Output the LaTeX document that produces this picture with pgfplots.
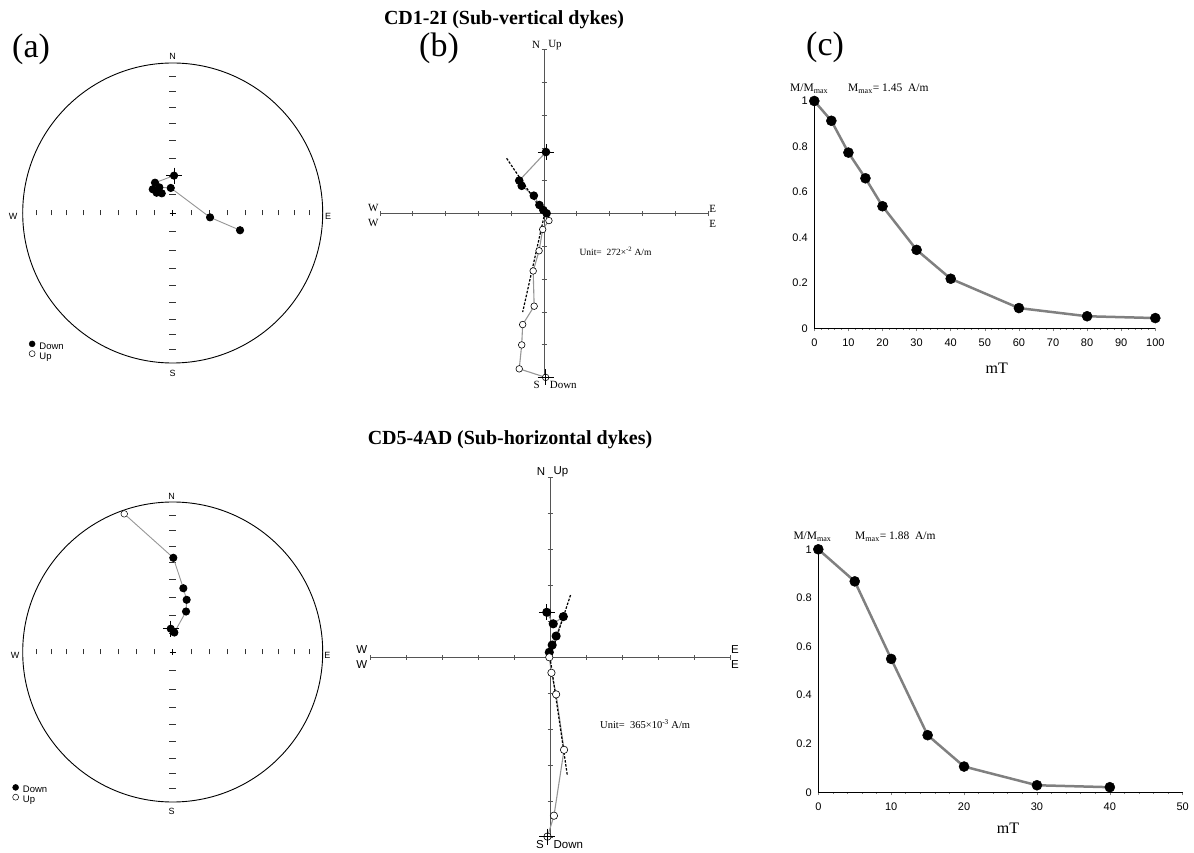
\documentclass[border=0pt]{standalone}
\usepackage{fontspec}
\setmainfont{Liberation Serif}
\setsansfont{Liberation Sans}
\usepackage{pgfplots}
\pgfplotsset{compat=1.18}
\definecolor{linegray}{RGB}{150,150,150}
\definecolor{curvegray}{RGB}{128,128,128}
\definecolor{axgray}{RGB}{85,85,85}
\newcommand{\fs}[1]{\fontsize{#1}{#1}\selectfont}
\pgfplotsset{
  stereo/.style={scale only axis, width=300pt, height=300pt, xmin=-1, xmax=1, ymin=-1, ymax=1,
    hide axis, anchor=center, clip=false,
    legend style={draw=none, fill=none, inner sep=0pt, font=\sffamily\fs{9.5}, row sep=-1.5pt,
      column sep=3pt, nodes={inner sep=1pt}},
    legend cell align=left},
  zijd/.style={scale only axis, xmin=-5, xmax=5, ymin=-5, ymax=5, enlargelimits=false,
    axis lines=center, axis line style={-, draw=axgray, line width=1pt},
    xtick={-5,-4,...,5}, ytick={-5,-4,...,5}, xticklabels={}, yticklabels={},
    tick align=center, major tick length=5pt, tick style={draw=axgray, line width=0.8pt},
    anchor=center, clip=false},
  afd/.style={scale only axis, anchor=south west, ymin=0, ymax=1, xmin=0,
    axis x line=bottom, axis y line=left, axis line style={-, line width=0.9pt},
    ytick={0,0.2,0.4,0.6,0.8,1}, minor x tick num=4,
    tick align=outside, major tick length=3pt, minor tick length=1.5pt,
    ytick style={draw=none}, tick style={line width=0.6pt},
    ticklabel style={font=\sffamily\fs{11}}, xticklabel style={yshift=-4pt},
    /pgf/number format/assume math mode=true, clip=false},
}
\newcommand{\stereoframe}{%
  \draw[line width=0.9pt] (axis cs:0,0) circle[radius=150pt];
  \pgfplotsinvokeforeach{0.1233,0.2456,0.3660,0.4837,0.5977,0.7071,0.8112,0.9096}{%
    \draw[line width=0.6pt,black!80] (axis cs:##1,0) ++(0pt,-2.5pt) -- ++(0pt,5pt);
    \draw[line width=0.6pt,black!80] (axis cs:-##1,0) ++(0pt,-2.5pt) -- ++(0pt,5pt);
    \draw[line width=0.6pt,black!80] (axis cs:0,##1) ++(-3.5pt,0pt) -- ++(7pt,0pt);
    \draw[line width=0.6pt,black!80] (axis cs:0,-##1) ++(-3.5pt,0pt) -- ++(7pt,0pt);
  }
  \draw[line width=0.6pt] (axis cs:0,0) ++(-3pt,0pt) -- ++(6pt,0pt);
  \draw[line width=0.6pt] (axis cs:0,0) ++(0pt,-3pt) -- ++(0pt,6pt);
}
\newcommand{\stereolegend}{%
  \addlegendimage{legend image code/.code={\draw[black,fill=black] (0pt,3pt) circle (3pt);}}
  \addlegendentry{Down}
  \addlegendimage{legend image code/.code={\draw[black,fill=white,line width=0.5pt] (0pt,3pt) circle (3pt);}}
  \addlegendentry{Up}
}
\begin{document}
\begin{tikzpicture}
\path[use as bounding box] (0pt,0pt) rectangle (1194pt,852pt);

% titles and panel letters
\node[anchor=base, font=\bfseries\fs{20}] at (504pt,827pt) {CD1-2I (Sub-vertical dykes)};
\node[anchor=base, font=\bfseries\fs{20}] at (510pt,407pt) {CD5-4AD (Sub-horizontal dykes)};
\node[anchor=base west, font=\fs{34}, inner sep=0pt] at (12pt,794pt) {(a)};
\node[anchor=base west, font=\fs{34}, inner sep=0pt] at (419pt,795pt) {(b)};
\node[anchor=base west, font=\fs{34}, inner sep=0pt] at (806pt,796pt) {(c)};

% ---------- (a) top: stereonet ----------
\begin{axis}[stereo, at={(172.7pt,639pt)}, legend style={at={(0.02,0.075)}, anchor=north west}]
\stereolegend
\stereoframe
\addplot[forget plot, draw=linegray, line width=0.9pt, mark=*, mark size=3.6pt,
  mark options={fill=black,draw=black}] coordinates {
  (0.009,0.249) (-0.118,0.202) (-0.133,0.158) (-0.107,0.135) (-0.073,0.131)
  (-0.089,0.171) (-0.013,0.167) (0.249,-0.029) (0.449,-0.115)};
\addplot[forget plot, only marks, mark=+, mark size=8pt, mark options={line width=0.6pt}]
  coordinates {(0.009,0.249)};
\end{axis}
\begin{scope}[font=\sffamily\fs{9}]
\node at (172.7pt,795.3pt) {N};
\node at (172.7pt,479pt) {S};
\node at (13pt,636pt) {W};
\node at (328pt,636pt) {E};
\end{scope}

% ---------- (a) bottom: stereonet ----------
\begin{axis}[stereo, at={(172.7pt,200pt)}, legend style={at={(-0.035,0.06)}, anchor=north west}]
\stereolegend
\stereoframe
\addplot[forget plot, draw=linegray, line width=0.9pt, mark=*, mark size=3.6pt,
  mark options={fill=black,draw=black}] coordinates {
  (-0.013,0.155) (0.011,0.13) (0.089,0.27) (0.093,0.348) (0.071,0.425) (0.004,0.628)};
\addplot[forget plot, draw=linegray, line width=0.9pt] coordinates {(0.004,0.628) (-0.323,0.921)};
\addplot[forget plot, only marks, mark=*, mark size=3.3pt, mark options={fill=white,draw=black,line width=0.5pt}]
  coordinates {(-0.323,0.921)};
\addplot[forget plot, only marks, mark=+, mark size=8pt, mark options={line width=0.6pt}]
  coordinates {(-0.013,0.155)};
\end{axis}
\begin{scope}[font=\sffamily\fs{9}]
\node at (171.7pt,355.3pt) {N};
\node at (171.7pt,40.3pt) {S};
\node at (15pt,197pt) {W};
\node at (327.3pt,197pt) {E};
\end{scope}

% ---------- (b) top: Zijderveld ----------
\begin{axis}[zijd, width=328pt, height=328pt, at={(544pt,638.3pt)}]
\addplot[draw=linegray, line width=1.1pt, mark=*, mark size=3.7pt,
  mark options={fill=black,draw=black}] coordinates {
  (0.06,1.88) (-0.755,1.01) (-0.68,0.85) (-0.31,0.55) (-0.14,0.265) (-0.02,0.11) (0.08,0.01)};
\addplot[draw=linegray, line width=1.1pt, mark=*, mark size=3.3pt,
  mark options={fill=white,draw=black,line width=0.6pt}] coordinates {
  (0.05,-4.99) (-0.755,-4.73) (-0.68,-4.0) (-0.65,-3.38) (-0.3,-2.82) (-0.33,-1.745)
  (-0.15,-1.13) (-0.04,-0.48) (0.15,-0.21)};
\addplot[only marks, mark=+, mark size=8pt, mark options={line width=0.6pt}]
  coordinates {(0.06,1.88) (0.05,-4.99)};
\addplot[black, line width=1.2pt, dash pattern=on 2.5pt off 1.5pt] coordinates {(-1.14,1.69) (0,0)};
\addplot[black, line width=1.2pt, dash pattern=on 2.5pt off 1.5pt] coordinates {(0,-0.09) (-0.65,-3.0)};
\end{axis}
\begin{scope}[font=\fs{11}]
\node at (536pt,807pt) {N};
\node at (555pt,807pt) {Up};
\node at (373.3pt,643.7pt) {W};
\node at (373.3pt,628.7pt) {W};
\node at (712.7pt,643pt) {E};
\node at (712.7pt,628pt) {E};
\node at (536.7pt,467pt) {S};
\node at (563.3pt,467pt) {Down};
\node[anchor=west, font=\fs{9.5}] at (576pt,600.3pt) {Unit=\ \ 272×\textsuperscript{-2} A/m};
\end{scope}

% ---------- (b) bottom: Zijderveld ----------
\begin{axis}[zijd, width=360pt, height=360pt, at={(550pt,194.7pt)}]
\addplot[draw=linegray, line width=1.1pt, mark=*, mark size=4pt,
  mark options={fill=black,draw=black}] coordinates {
  (-0.09,1.25) (0.09,0.93) (0.37,1.13) (0.17,0.59) (0.06,0.34) (-0.02,0.14)};
\addplot[draw=linegray, line width=1.1pt, mark=*, mark size=3.7pt,
  mark options={fill=white,draw=black,line width=0.6pt}] coordinates {
  (-0.07,-4.98) (0.11,-4.4) (0.39,-2.57) (0.17,-1.03) (0.04,-0.43) (-0.02,0)};
\addplot[only marks, mark=+, mark size=8pt, mark options={line width=0.6pt}]
  coordinates {(-0.09,1.25) (-0.07,-4.98)};
\addplot[black, line width=1.2pt, dash pattern=on 2.5pt off 1.5pt] coordinates {(0.57,1.73) (0,0)};
\addplot[black, line width=1.2pt, dash pattern=on 2.5pt off 1.5pt] coordinates {(0,0) (0.48,-3.27)};
\end{axis}
\begin{scope}[font=\sffamily\fs{11.5}]
\node at (541pt,380.3pt) {N};
\node at (561pt,380.3pt) {Up};
\node at (361.7pt,202pt) {W};
\node at (361.7pt,187pt) {W};
\node at (735pt,202pt) {E};
\node at (735pt,187pt) {E};
\node at (540pt,7pt) {S};
\node at (568.3pt,7pt) {Down};
\end{scope}
\node[anchor=west, font=\fs{10.5}] at (596.7pt,128pt) {Unit=\ \ 365×10\textsuperscript{-3} A/m};

% ---------- (c) top: AF demagnetisation ----------
\begin{axis}[afd, width=341pt, height=227.3pt, at={(814.3pt,523.7pt)}, xmax=100, xtick={0,10,...,100}]
\addplot[draw=curvegray, line width=2.5pt, mark=*, mark size=5pt,
  mark options={fill=black,draw=black,line width=0.5pt}] coordinates {
  (0,1.0) (5,0.913) (10,0.773) (15,0.66) (20,0.537) (30,0.345) (40,0.218) (60,0.089) (80,0.053) (100,0.045)};
\end{axis}
\node[anchor=base west, font=\fs{11.5}, inner sep=0pt] at (790pt,760.3pt) {M/M\textsubscript{max}};
\node[anchor=base west, font=\fs{11.5}, inner sep=0pt] at (848pt,760.3pt) {M\textsubscript{max}= 1.45\ \ A/m};
\node[anchor=base, font=\fs{16}] at (996.7pt,478.7pt) {mT};

% ---------- (c) bottom ----------
\begin{axis}[afd, width=364.4pt, height=243pt, at={(818.3pt,59.7pt)}, xmax=50, xtick={0,10,...,50}]
\addplot[draw=curvegray, line width=2.5pt, mark=*, mark size=5pt,
  mark options={fill=black,draw=black,line width=0.5pt}] coordinates {
  (0,1.0) (5,0.868) (10,0.549) (15,0.235) (20,0.106) (30,0.029) (40,0.021)};
\end{axis}
\node[anchor=base west, font=\fs{11.5}, inner sep=0pt] at (793.3pt,312.7pt) {M/M\textsubscript{max}};
\node[anchor=base west, font=\fs{11.5}, inner sep=0pt] at (855pt,312.7pt) {M\textsubscript{max}= 1.88\ \ A/m};
\node[anchor=base, font=\fs{16}] at (1008pt,18.7pt) {mT};
\end{tikzpicture}
\end{document}
